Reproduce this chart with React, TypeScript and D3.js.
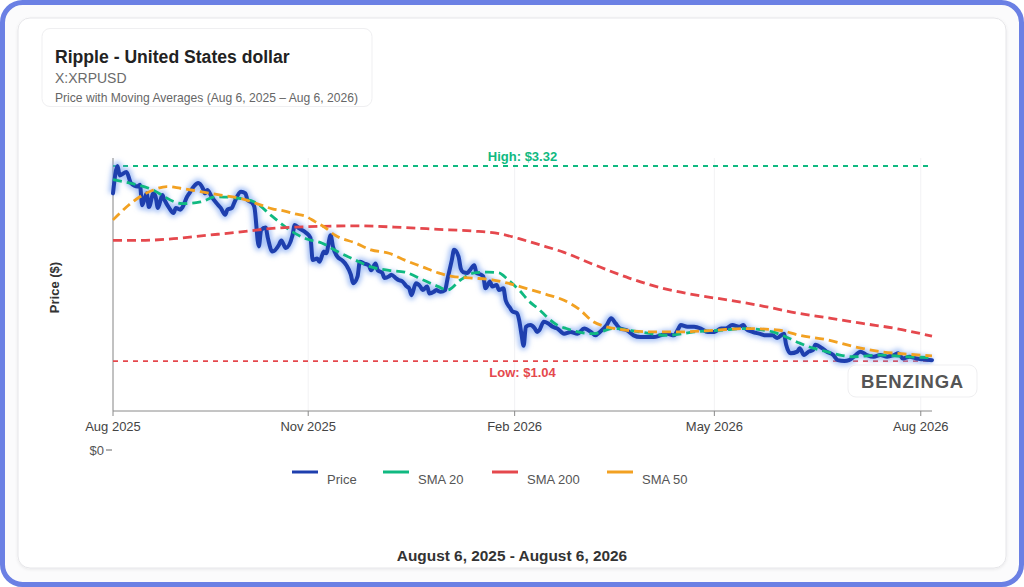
import React from 'react';
import * as d3 from 'd3';

const START_DATE = '2025-08-06';
const END_DATE = '2026-08-06';

const priceDays = [0, 2, 3, 6, 8, 11, 12, 13, 15, 16, 18, 19, 20, 22, 23, 25, 27, 28, 30, 31, 33, 34, 36, 38, 40, 41, 42, 44, 46, 48, 50, 51, 53, 54, 57, 59, 60, 62, 63, 65, 66, 68, 69, 71, 74, 75, 77, 80, 81, 83, 86, 88, 89, 91, 92, 94, 95, 97, 98, 100, 102, 104, 106, 107, 109, 110, 112, 114, 115, 117, 118, 120, 121, 123, 124, 126, 127, 129, 131, 132, 133, 135, 137, 138, 140, 141, 143, 144, 146, 148, 149, 151, 152, 154, 155, 156, 158, 159, 161, 162, 164, 165, 166, 168, 169, 171, 172, 174, 175, 177, 178, 180, 181, 182, 183, 184, 186, 188, 189, 190, 192, 194, 196, 198, 201, 204, 207, 210, 213, 215, 217, 220, 222, 224, 226, 229, 232, 235, 238, 241, 244, 247, 250, 252, 253, 256, 259, 262, 265, 268, 271, 273, 276, 279, 281, 282, 285, 288, 291, 294, 296, 299, 300, 302, 305, 306, 308, 310, 312, 313, 316, 318, 321, 323, 326, 328, 331, 333, 336, 339, 342, 345, 348, 350, 352, 355, 358, 361, 365];
const priceValues = [3.0, 3.32, 3.21, 3.25, 3.12, 3.08, 3.1, 2.86, 3.0, 2.84, 3.0, 2.96, 2.83, 2.98, 2.92, 2.83, 2.77, 2.83, 2.81, 2.84, 2.96, 3.0, 3.08, 3.12, 3.06, 3.0, 3.04, 2.96, 2.89, 2.83, 2.75, 2.81, 2.83, 2.89, 3.02, 3.0, 2.92, 2.89, 2.84, 2.38, 2.57, 2.6, 2.48, 2.32, 2.4, 2.45, 2.36, 2.51, 2.63, 2.59, 2.54, 2.48, 2.22, 2.24, 2.2, 2.32, 2.3, 2.51, 2.38, 2.26, 2.22, 2.16, 2.05, 1.95, 2.03, 2.2, 2.18, 2.16, 2.1, 2.18, 2.1, 2.07, 2.01, 2.03, 2.05, 2.01, 1.99, 1.97, 1.91, 1.89, 1.81, 1.95, 1.91, 1.87, 1.91, 1.83, 1.85, 1.87, 1.85, 1.87, 1.99, 2.22, 2.34, 2.26, 2.12, 2.08, 2.07, 2.1, 2.16, 2.07, 2.05, 2.03, 1.89, 1.97, 1.91, 1.93, 1.87, 1.89, 1.75, 1.66, 1.62, 1.6, 1.52, 1.36, 1.22, 1.44, 1.46, 1.42, 1.38, 1.4, 1.5, 1.48, 1.44, 1.42, 1.36, 1.38, 1.36, 1.42, 1.38, 1.34, 1.38, 1.46, 1.54, 1.48, 1.42, 1.4, 1.34, 1.32, 1.32, 1.32, 1.34, 1.36, 1.34, 1.42, 1.46, 1.44, 1.44, 1.42, 1.38, 1.38, 1.42, 1.42, 1.46, 1.44, 1.46, 1.42, 1.38, 1.36, 1.34, 1.34, 1.31, 1.36, 1.23, 1.13, 1.15, 1.19, 1.11, 1.15, 1.17, 1.23, 1.19, 1.15, 1.11, 1.05, 1.04, 1.05, 1.11, 1.15, 1.11, 1.09, 1.11, 1.09, 1.11, 1.13, 1.07, 1.09, 1.07, 1.06, 1.05];

const sma20Days = [0, 16, 31, 39, 46, 57, 63, 71, 80, 86, 93, 100, 108, 115, 123, 130, 138, 145, 149, 155, 161, 167, 172, 176, 181, 185, 190, 194, 198, 202, 214, 223, 235, 247, 259, 271, 282, 294, 300, 306, 312, 318, 324, 330, 342, 354, 365];
const sma20Values = [3.16, 3.06, 2.88, 2.9, 2.96, 2.94, 2.9, 2.73, 2.55, 2.47, 2.42, 2.32, 2.22, 2.14, 2.1, 2.08, 1.99, 1.91, 1.87, 1.99, 2.07, 2.08, 2.07, 1.99, 1.87, 1.75, 1.64, 1.54, 1.46, 1.42, 1.36, 1.42, 1.38, 1.34, 1.38, 1.4, 1.42, 1.38, 1.32, 1.25, 1.19, 1.15, 1.11, 1.09, 1.11, 1.09, 1.08];

const sma50Days = [0, 6, 12, 18, 24, 30, 39, 48, 57, 64, 71, 77, 81, 86, 90, 94, 99, 108, 115, 123, 130, 138, 145, 151, 160, 169, 176, 184, 193, 201, 208, 214, 220, 229, 241, 253, 268, 282, 297, 306, 318, 330, 342, 354, 365];
const sma50Values = [2.69, 2.84, 2.96, 3.04, 3.08, 3.06, 3.02, 2.98, 2.94, 2.88, 2.82, 2.79, 2.76, 2.73, 2.67, 2.61, 2.51, 2.42, 2.34, 2.3, 2.22, 2.14, 2.07, 2.03, 2.01, 1.99, 1.95, 1.89, 1.82, 1.75, 1.64, 1.5, 1.44, 1.4, 1.38, 1.38, 1.4, 1.42, 1.4, 1.34, 1.29, 1.21, 1.15, 1.12, 1.1];

const sma200Days = [0, 12, 27, 42, 57, 71, 86, 109, 130, 145, 160, 172, 181, 190, 201, 215, 230, 245, 260, 275, 290, 305, 320, 334, 349, 365];
const sma200Values = [2.45, 2.45, 2.47, 2.51, 2.55, 2.59, 2.61, 2.62, 2.6, 2.58, 2.56, 2.53, 2.47, 2.4, 2.31, 2.16, 2.01, 1.89, 1.81, 1.75, 1.68, 1.6, 1.54, 1.48, 1.42, 1.33];

const xTickDates = ['2025-08-06', '2025-11-01', '2026-02-01', '2026-05-01', '2026-08-01'];
const yTickValues = [0];
const highValue = 3.32;
const lowValue = 1.04;
const legendNames = ['Price', 'SMA 20', 'SMA 200', 'SMA 50'];

const COLORS = {
  price: '#1e3fae',
  sma20: '#10b981',
  sma200: '#e5484d',
  sma50: '#f2a122',
};
const FONT = '"Liberation Sans", Arial, Helvetica, sans-serif';

const parse = d3.timeParse('%Y-%m-%d');

export default function App() {
  const start = parse(START_DATE) as Date;
  const end = parse(END_DATE) as Date;

  const left = 113, right = 932, top = 158, bottom = 411;
  const x = d3.scaleTime().domain([start, end]).range([left, right]);
  const y = d3.scaleLinear().domain([0, highValue]).range([450, 166]);

  const toSeries = (days: number[], vals: number[]) =>
    days.map((d, i) => [d3.timeDay.offset(start, d), vals[i]] as [Date, number]);

  const price = toSeries(priceDays, priceValues);
  const sma20 = toSeries(sma20Days, sma20Values);
  const sma50 = toSeries(sma50Days, sma50Values);
  const sma200 = toSeries(sma200Days, sma200Values);

  const line = d3
    .line<[Date, number]>()
    .x((d) => x(d[0]))
    .y((d) => y(d[1]))
    .curve(d3.curveMonotoneX);

  const ticks = xTickDates.map((s) => parse(s) as Date);
  const fmt = d3.timeFormat('%b %Y');
  const legendColors = [COLORS.price, COLORS.sma20, COLORS.sma200, COLORS.sma50];
  const legendX = [292, 383, 492, 607];
  const midX = (left + right) / 2;

  return (
    <div style={{ position: 'absolute', left: 0, top: 0 }}>
      <svg width={1024} height={587} style={{ display: 'block', fontFamily: FONT }}>
        <defs>
          <filter id="glow" x="-5%" y="-20%" width="110%" height="140%">
            <feGaussianBlur stdDeviation="2.4" />
          </filter>
          <filter id="cardShadow" x="-5%" y="-5%" width="110%" height="110%">
            <feDropShadow dx="0" dy="1" stdDeviation="1.5" floodColor="#000" floodOpacity="0.08" />
          </filter>
        </defs>
        <rect x={0} y={0} width={1024} height={587} fill="#ffffff" />
        <rect x={2.5} y={2.5} width={1019} height={582} rx={20} fill="#fbfbfc" stroke="#6b80e4" strokeWidth={5} />
        <rect x={18} y={18} width={988} height={550} rx={12} fill="#ffffff" stroke="#e6e6e9" strokeWidth={1} filter="url(#cardShadow)" />

        {/* title box */}
        <rect x={42} y={28.5} width={330} height={78} rx={8} fill="#ffffff" stroke="#efeff1" strokeWidth={1} />
        <text x={55} y={63} fontSize={17.6} fontWeight="bold" fill="#222">Ripple - United States dollar</text>
        <text x={55} y={82.5} fontSize={14} fill="#6b6b6b">X:XRPUSD</text>
        <text x={55} y={101.5} fontSize={12.1} fill="#666">Price with Moving Averages (Aug 6, 2025 – Aug 6, 2026)</text>

        {/* grid */}
        {ticks.map((t, i) => (
          <line key={'g' + i} x1={x(t)} x2={x(t)} y1={top} y2={bottom} stroke="#f2f2f4" strokeWidth={1} />
        ))}

        {/* axes */}
        <line x1={left} x2={left} y1={top} y2={bottom} stroke="#8a8a8a" strokeWidth={1} />
        <line x1={left} x2={right} y1={bottom} y2={bottom} stroke="#8a8a8a" strokeWidth={1} />
        {ticks.map((t, i) => (
          <g key={'t' + i}>
            <line x1={x(t)} x2={x(t)} y1={bottom} y2={bottom + 5} stroke="#8a8a8a" />
            <text x={x(t)} y={431} fontSize={13} textAnchor="middle" fill="#444">{fmt(t)}</text>
          </g>
        ))}
        {yTickValues.map((v, i) => (
          <g key={'y' + i}>
            <text x={104} y={y(v) + 4.5} fontSize={13} textAnchor="end" fill="#555">{d3.format('$')(v)}</text>
            <line x1={106} x2={112} y1={y(v)} y2={y(v)} stroke="#666" />
          </g>
        ))}
        <text transform={`translate(59,${(top + bottom) / 2 + 3}) rotate(-90)`} fontSize={13} fontWeight="bold" textAnchor="middle" fill="#333">Price ($)</text>

        {/* high / low reference lines */}
        <line x1={left} x2={right} y1={y(highValue)} y2={y(highValue)} stroke={COLORS.sma20} strokeWidth={1.8} strokeDasharray="5,5" />
        <text x={midX} y={y(highValue) - 5} fontSize={13} fontWeight="bold" textAnchor="middle" fill={COLORS.sma20}>{`High: $${highValue.toFixed(2)}`}</text>
        <line x1={left} x2={right} y1={y(lowValue)} y2={y(lowValue)} stroke={COLORS.sma200} strokeWidth={1.8} strokeDasharray="5,5" />
        <text x={midX} y={y(lowValue) + 16} fontSize={13} fontWeight="bold" textAnchor="middle" fill={COLORS.sma200}>{`Low: $${lowValue.toFixed(2)}`}</text>

        {/* series */}
        <path d={line(price) || ''} fill="none" stroke="#6f9cf0" strokeOpacity={0.6} strokeWidth={9} strokeLinejoin="round" filter="url(#glow)" />
        <path d={line(price) || ''} fill="none" stroke={COLORS.price} strokeWidth={4} strokeLinejoin="round" strokeLinecap="round" />
        <path d={line(sma20) || ''} fill="none" stroke={COLORS.sma20} strokeWidth={2.8} strokeDasharray="9,5" />
        <path d={line(sma200) || ''} fill="none" stroke={COLORS.sma200} strokeWidth={2.8} strokeDasharray="9,5" />
        <path d={line(sma50) || ''} fill="none" stroke={COLORS.sma50} strokeWidth={2.8} strokeDasharray="9,5" />

        {/* watermark */}
        <rect x={848} y={365} width={129} height={32} rx={8} fill="#ffffff" fillOpacity={0.9} stroke="#efeff1" />
        <text x={912.5} y={387.5} fontSize={18.5} fontWeight="bold" textAnchor="middle" fill="#555" letterSpacing={0.8}>BENZINGA</text>

        {/* legend */}
        {legendNames.map((n, i) => (
          <g key={'l' + i}>
            <line x1={legendX[i]} x2={legendX[i] + 26} y1={472} y2={472} stroke={legendColors[i]} strokeWidth={3} />
            <text x={legendX[i] + 35} y={484} fontSize={13} fill="#555">{n}</text>
          </g>
        ))}

        <text x={512} y={561} fontSize={15.4} fontWeight="bold" textAnchor="middle" fill="#333">August 6, 2025 - August 6, 2026</text>
      </svg>
    </div>
  );
}
